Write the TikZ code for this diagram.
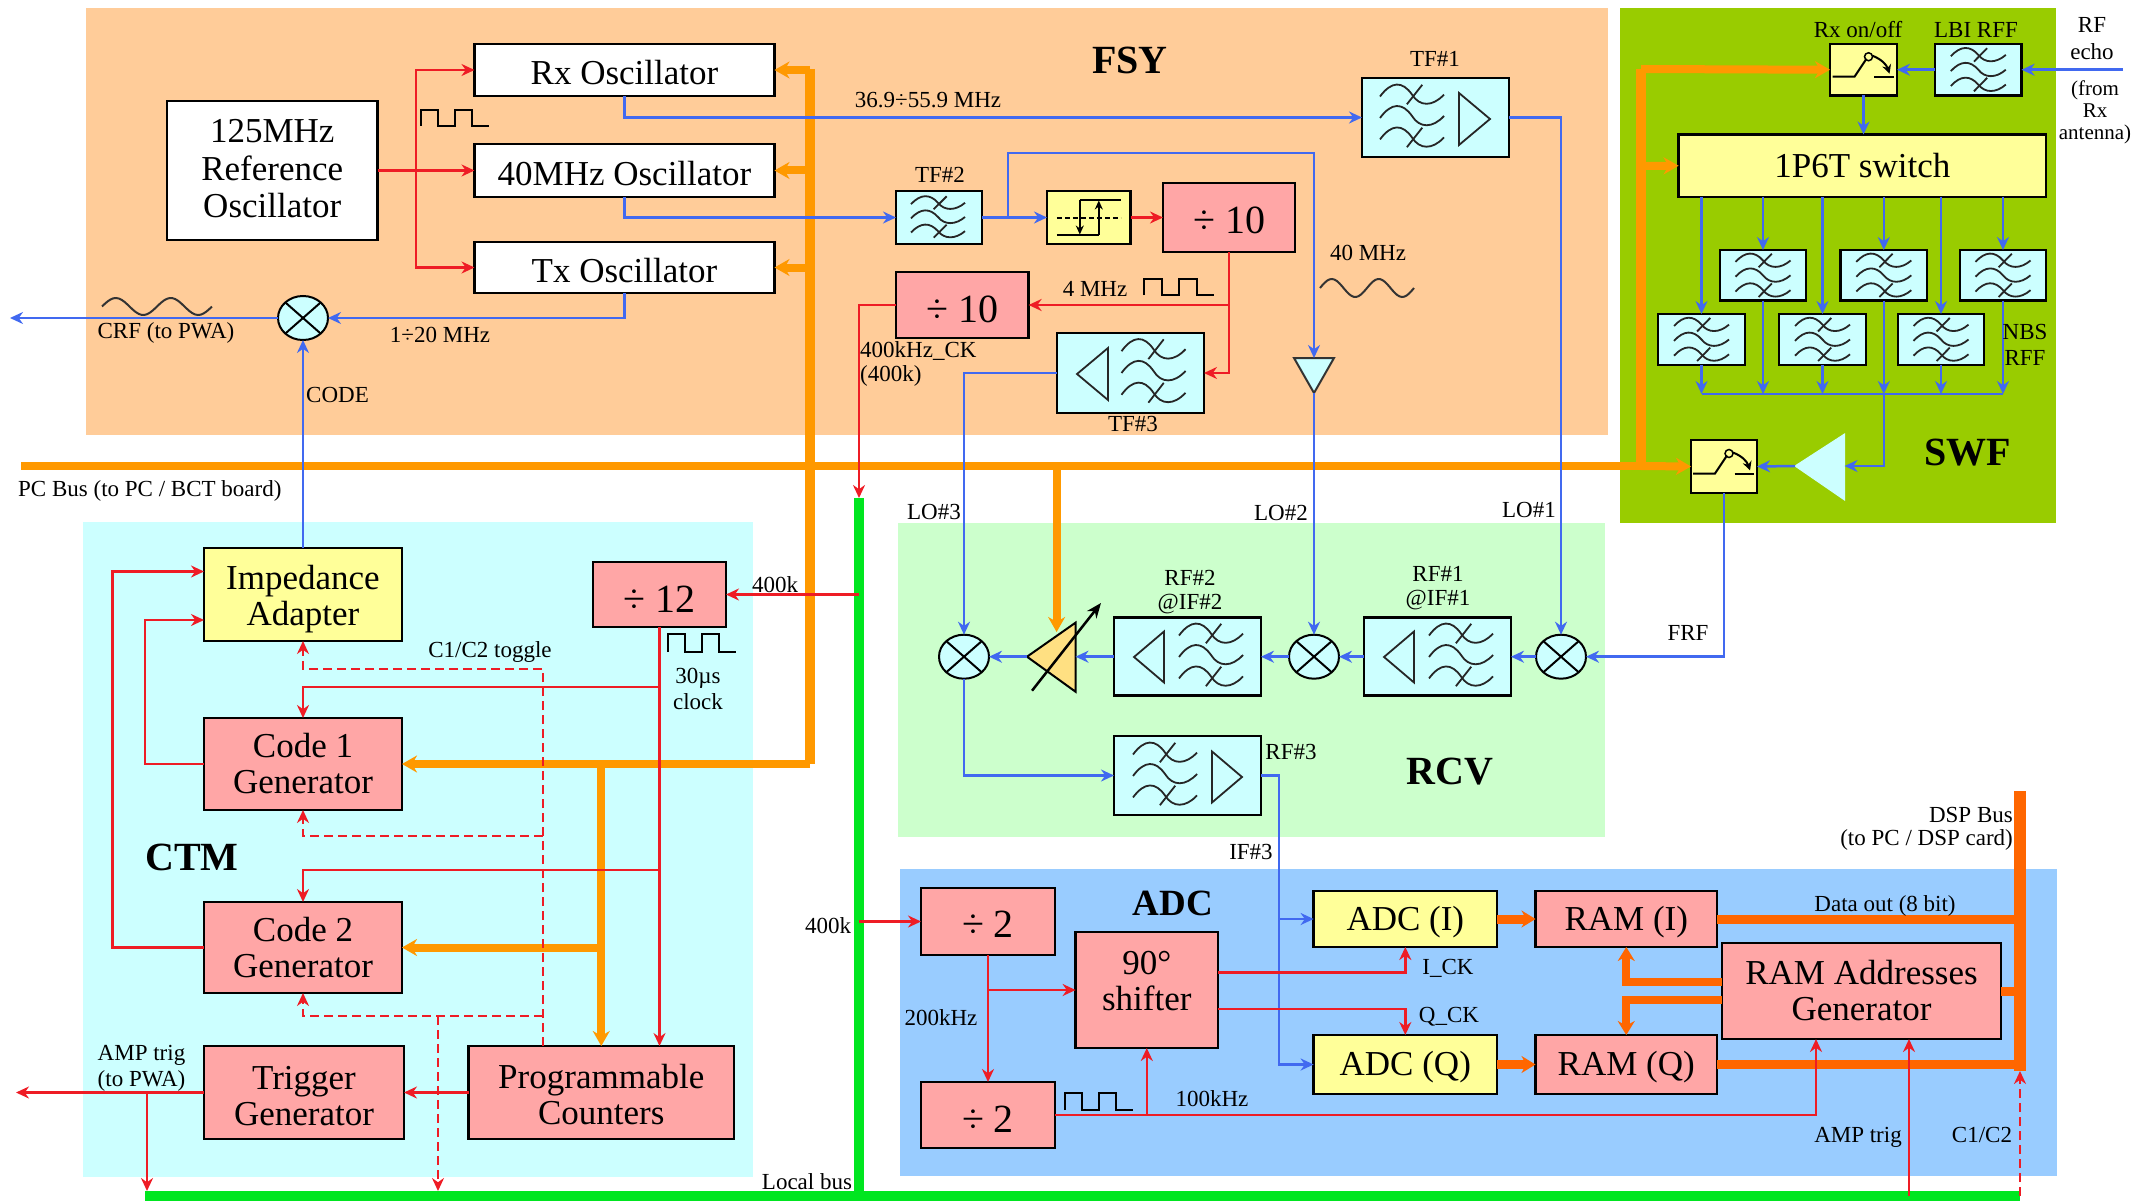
\documentclass[tikz,border=0pt]{standalone}
\usepackage{fontspec}
\setmainfont{Liberation Serif}
\usepackage{xcolor}
\usetikzlibrary{arrows.meta, calc, shapes.geometric}

\definecolor{fsycol}{HTML}{FFCC99}
\definecolor{swfcol}{HTML}{99CC00}
\definecolor{ctmcol}{HTML}{CCFFFF}
\definecolor{rcvcol}{HTML}{CCFFCC}
\definecolor{adccol}{HTML}{99CCFF}
\definecolor{pinkcol}{HTML}{FFA6A6}
\definecolor{yelcol}{HTML}{FFFF99}
\definecolor{sigblue}{HTML}{4169F0}
\definecolor{ctlred}{HTML}{EE1C25}
\definecolor{busorange}{HTML}{FF9900}
\definecolor{dspcol}{HTML}{FF6600}
\definecolor{lbuscol}{HTML}{00E620}
\definecolor{vgacol}{HTML}{FFE082}

\tikzset{
  blkbase/.style={draw=black, line width=2.5pt, inner sep=0pt, outer sep=0pt, align=center, font=\fontsize{35}{36}\selectfont},
  whitebox/.style={blkbase, fill=white, font=\fontsize{35}{37.5}\selectfont},
  pinkbox/.style={blkbase, fill=pinkcol},
  yelbox/.style={blkbase, fill=yelcol},
  cyanbox/.style={blkbase, fill=ctmcol},
  divbox/.style={blkbase, fill=pinkcol, font=\fontsize{40}{44}\selectfont},
  mixer/.style={ellipse, draw=black, fill=ctmcol, line width=2pt, inner sep=0pt, outer sep=0pt,
    minimum width=50pt, minimum height=44pt,
    path picture={\draw[line width=2pt] (path picture bounding box.north west) -- (path picture bounding box.south east)
      (path picture bounding box.north east) -- (path picture bounding box.south west);}},
  lbl/.style={inner sep=0pt, align=center, font=\fontsize{23}{26}\selectfont},
  seclbl/.style={inner sep=0pt, font=\fontsize{40}{44}\selectfont\bfseries},
  sig/.style={draw=sigblue, line width=2.5pt},
  ctl/.style={draw=ctlred, line width=2.5pt},
  ctld/.style={draw=ctlred, line width=2pt, dash pattern=on 9pt off 5pt},
  busor/.style={draw=busorange, line width=8pt, >={Stealth[length=15pt,width=17pt]}},
  busdsp/.style={draw=dspcol, line width=9pt, >={Stealth[length=14pt,width=17pt]}},
  lbus/.style={draw=lbuscol, line width=10pt},
  filtline/.style={draw=black!85, line width=1.8pt},
  waves/.pic={
    \foreach \yy/\tk in {-0.33/1,0/0,0.33/1}{
      \draw[filtline] (-.5,\yy+.03) .. controls (-.32,\yy-.21) and (-.15,\yy-.21) .. (0,\yy) .. controls (.12,\yy+.19) and (.32,\yy+.19) .. (.5,\yy);
      \ifnum\tk=1 \draw[filtline] (.16,\yy-.15) -- (-.08,\yy+.15); \fi
    }
  },
  tri/.pic={\draw[filtline] (-.5,-.5) -- (.5,0) -- (-.5,.5) -- cycle;},
  pulse/.pic={\draw[draw=black, line width=2pt] (0,1) -- (0,0) -- (.25,0) -- (.25,1) -- (.5,1) -- (.5,0) -- (.75,0) -- (.75,1) -- (1,1);},
  sine/.pic={\draw[draw=black!80, line width=2pt, smooth] plot[domain=0:1, samples=40] (\x, {0.5-0.5*sin(720*\x)});},
  rfswitch/.pic={
    \draw[draw=black, line width=2pt] (-31,7) -- (-9,7) -- (3,-11);
    \draw[draw=black, line width=2pt] (10.5,7) -- (30,7);
    \draw[draw=black, line width=1.5pt] (5,-13) circle (4);
    \draw[draw=black, line width=2pt, -{Stealth[length=9pt,width=9pt]}] (9,-14) to[bend left=25] (26,4);
  },
  hyst/.pic={
    \draw[draw=black, line width=2pt, dash pattern=on 5pt off 3pt] (-32,0) -- (32,0);
    \draw[draw=black, line width=2pt] (-32,17) -- (10,17) (-9,-17) -- (32,-17);
    \draw[draw=black, line width=2pt, -{Stealth[length=9pt,width=8pt]}] (-9,-17) -- (-9,17);
    \draw[draw=black, line width=2pt, -{Stealth[length=9pt,width=8pt]}] (10,17) -- (10,-17);
  }
}

\newcommand{\blk}[7]{%
  \pgfmathsetmacro\blkw{#5-#3}\pgfmathsetmacro\blkh{#6-#4}%
  \node[#1, minimum width=\blkw pt, minimum height=\blkh pt] (#2) at ({(#3+#5)/2},{(#4+#6)/2}) {#7};}
\newcommand{\dnrule}[1]{\rule{0pt}{#1pt}}

\begin{document}
\begin{tikzpicture}[x=1pt, y=-1pt, >={Stealth[length=13pt,width=12pt]}]
  \useasboundingbox (0,0) rectangle (2138,1201);

  \fill[fsycol] (86,8) rectangle (1608,435);
  \fill[swfcol] (1620,8) rectangle (2056,523);
  \fill[ctmcol] (83,522) rectangle (753,1177);
  \fill[rcvcol] (898,523) rectangle (1605,837);
  \fill[adccol] (900,869) rectangle (2057,1176);

  \coordinate (bartop) at (810,69);
  \coordinate (barcorner) at (810,764);
  \coordinate (barstart) at (21,466);
  \coordinate (barvga) at (1056.6,466);
  \coordinate (vgabus) at (1056.6,632);
  \coordinate (swfbot) at (1641,466);
  \coordinate (swftop) at (1641,69);
  \coordinate (swfmid) at (1641,166);
  \coordinate (lbustop) at (859,498);
  \coordinate (lbusbot) at (859,1196);
  \coordinate (lbusl) at (145,1196);
  \coordinate (lbusr) at (2020,1196);
  \coordinate (dsptop) at (2020,791);
  \coordinate (dspbot) at (2020,1071);

  \blk{whitebox}{refosc}{167}{101}{377.5}{240}{125MHz\\Reference\\Oscillator\rule[-4pt]{0pt}{1pt}}
  \blk{whitebox}{rxosc}{474.5}{44}{774.5}{96}{\dnrule{30}Rx Oscillator}
  \blk{whitebox}{oscforty}{474.5}{144}{774.5}{197}{\dnrule{30}40MHz Oscillator}
  \blk{whitebox}{txosc}{474.5}{242}{774.5}{293}{\dnrule{31}Tx Oscillator}
  \node[mixer] (mixc) at (303,318) {};
  \blk{cyanbox}{tfone}{1362}{78}{1509}{157}{}
  \blk{cyanbox}{tftwo}{896}{191}{982}{244}{}
  \blk{yelbox}{schm}{1047}{191}{1130.6}{244}{}
  \blk{divbox}{divtena}{1163}{183}{1295}{252}{\dnrule{32}÷ 10}
  \blk{divbox}{divtenb}{896}{272}{1028.6}{338}{\dnrule{35}÷ 10}
  \blk{cyanbox}{tfthree}{1057}{333}{1204}{413}{}

  \blk{yelbox}{rxsw}{1830}{44}{1897}{95.5}{}
  \blk{cyanbox}{lbiflt}{1935}{44}{2021.6}{95.5}{}
  \blk{yelbox}{ponesix}{1678.6}{134.5}{2046}{197}{1P6T switch}
  \blk{cyanbox}{nbsb}{1720}{250}{1806}{300.7}{}
  \blk{cyanbox}{nbsd}{1840.6}{250}{1927}{300.7}{}
  \blk{cyanbox}{nbsf}{1960}{250}{2046}{300.7}{}
  \blk{cyanbox}{nbsa}{1658}{314}{1745}{365}{}
  \blk{cyanbox}{nbsc}{1779}{314}{1866}{365}{}
  \blk{cyanbox}{nbse}{1898}{314}{1984}{365}{}
  \blk{yelbox}{txsw}{1691}{440}{1757}{493}{}

  \blk{yelbox}{impad}{204}{548}{402}{641}{\dnrule{33}Impedance\\Adapter}
  \blk{pinkbox}{codeone}{204}{718}{402}{810}{Code 1\\Generator}
  \blk{pinkbox}{codetwo}{204}{902}{402}{993}{Code 2\\Generator}
  \blk{pinkbox}{trig}{204}{1046}{404}{1139}{\dnrule{30}Trigger\\Generator}
  \blk{pinkbox}{prog}{468.5}{1046}{734}{1139}{\dnrule{28}Programmable\\Counters}
  \blk{divbox}{divtwelve}{593}{562}{726}{627}{\dnrule{35}÷ 12}

  \node[mixer] (mixone) at (1561,656.7) {};
  \node[mixer] (mixtwo) at (1314,656.7) {};
  \node[mixer] (mixthree) at (964,656.7) {};
  \blk{cyanbox}{rfone}{1364}{617.7}{1511}{695.7}{}
  \blk{cyanbox}{rftwo}{1114}{617.7}{1261}{695.7}{}
  \blk{cyanbox}{rfthree}{1114}{736}{1261}{815}{}

  \blk{divbox}{divtwoa}{921}{888}{1055}{955}{\dnrule{32}÷ 2}
  \blk{divbox}{divtwob}{921}{1082}{1055}{1148}{\dnrule{35}÷ 2}
  \blk{pinkbox}{shift}{1075.6}{932}{1218}{1048}{90°\\shifter\rule[-18pt]{0pt}{1pt}}
  \blk{yelbox}{adci}{1313.6}{891}{1497}{947}{\dnrule{30}ADC (I)}
  \blk{yelbox}{adcq}{1313.6}{1035}{1497}{1094}{\dnrule{30}ADC (Q)}
  \blk{pinkbox}{rami}{1535.5}{891}{1717}{947}{\dnrule{30}RAM (I)}
  \blk{pinkbox}{ramq}{1535.5}{1035}{1717}{1094}{\dnrule{30}RAM (Q)}
  \blk{pinkbox}{ramad}{1722}{943}{2001}{1039}{RAM Addresses\\Generator}

  \pic[xscale=64,yscale=65] at (1412,116) {waves};
  \pic[xscale=31,yscale=52] at (1474.5,119) {tri};
  \pic[xscale=54,yscale=43] at (938,217) {waves};
  \pic[xscale=64,yscale=66] at (1153.5,371) {waves};
  \pic[xscale=-31,yscale=52] at (1092.5,374) {tri};
  \pic[xscale=64,yscale=65] at (1211,655) {waves};
  \pic[xscale=-30,yscale=51] at (1149,657) {tri};
  \pic[xscale=64,yscale=65] at (1461,655) {waves};
  \pic[xscale=-30,yscale=51] at (1399,657) {tri};
  \pic[xscale=64,yscale=65] at (1165,774) {waves};
  \pic[xscale=30,yscale=51] at (1227,777) {tri};
  \foreach \f in {lbiflt,nbsa,nbsb,nbsc,nbsd,nbse,nbsf}
    \pic[xscale=55,yscale=45] at (\f) {waves};
  \pic at (schm) {hyst};
  \pic at (rxsw) {rfswitch};
  \pic at (txsw) {rfswitch};

  \coordinate (buftop) at (1314,358);
  \coordinate (bufbot) at (1314,393);
  \coordinate (bufup) at (1314,153);
  \filldraw[fill=ctmcol, draw=black!80, line width=2pt] (1294,358) -- (1334,358) -- (bufbot) -- cycle;
  \coordinate (ampr) at (1844.5,466);
  \coordinate (ampl) at (1795,466);
  \filldraw[fill=ctmcol, draw=ctmcol, line width=1pt] (ampl) -- (1844.5,434) -- (1844.5,500) -- cycle;
  \coordinate (vgar) at (1075.5,656.7);
  \coordinate (vgal) at (1027,656.7);
  \filldraw[fill=vgacol, draw=black, line width=2pt] (vgal) -- (1075.5,622.7) -- (1075.5,691.7) -- cycle;

  \draw[busor] (barstart) -- (swfbot);
  \draw[busor, line width=10pt] (bartop) -- (barcorner);
  \draw[busor,->] (barcorner) -- (codeone.east);
  \draw[busor,->] (rxosc.east -| bartop) -- (rxosc.east);
  \draw[busor,->] (oscforty.east -| bartop) -- (oscforty.east);
  \draw[busor,->] (txosc.east -| bartop) -- (txosc.east);
  \draw[busor,->] (prog.north |- codeone.east) -- (prog.north);
  \draw[busor,->] (prog.north |- codetwo.east) -- (codetwo.east);
  \draw[busor,->] (barvga) -- (vgabus);
  \draw[busor,->] (swfbot) -- (txsw.west);
  \draw[busor, line width=10pt] (swfbot) -- (swftop);
  \draw[busor,->] (swftop) -- (rxsw.west);
  \draw[busor,->] (swfmid) -- (ponesix.west);

  \draw[lbus] (lbustop) -- (lbusbot);
  \draw[lbus] (lbusl) -- (lbusr);

  \draw[busdsp, line width=12pt] (dsptop) -- (dspbot);
  \draw[busdsp,->] (adci.east) -- (rami.west);
  \draw[busdsp,->] (adcq.east) -- (ramq.west);
  \draw[busdsp] (rami.east) -- (rami.east -| dsptop);
  \draw[busdsp] (ramq.east) -- (ramq.east -| dsptop);
  \draw[busdsp] (ramad.east) -- (ramad.east -| dsptop);
  \coordinate (radup) at (1722,982);
  \coordinate (raddn) at (1722,1000);
  \draw[busdsp, line width=8pt,->] (radup) -| (rami.south);
  \draw[busdsp, line width=8pt,->] (raddn) -| (ramq.north);

  \coordinate (refbr) at (416,170.5);
  \draw[ctl,->] (refosc.east) -- (oscforty.west);
  \draw[ctl,->] (refbr) |- (rxosc.west);
  \draw[ctl,->] (refbr) |- (txosc.west);

  \coordinate (crfout) at (10,318);
  \draw[sig,->] (txosc.south) |- (mixc.east);
  \draw[sig,->] (mixc.west) -- (crfout);
  \draw[sig,->] (impad.north) -- (mixc.south);
  \draw[sig,->] (rxosc.south) |- (tfone.west);
  \draw[sig,->] (oscforty.south) |- (tftwo.west);
  \draw[sig,->] (tftwo.east) -- (schm.west);
  \coordinate (tftwobr) at (1008,217.5);
  \draw[sig,->] (tftwobr) |- (bufup) -- (buftop);
  \draw[sig,->] (bufbot) -- (mixtwo.north);
  \draw[sig,->] (tfone.east) -| (mixone.north);
  \draw[sig,->] (tfthree.west) -| (mixthree.north);

  \draw[ctl,->] (schm.east) -- (divtena.west);
  \draw[ctl,->] (divtena.south) |- (tfthree.east);
  \draw[ctl,->] (divtena.south |- divtenb.east) -- (divtenb.east);
  \draw[ctl,->] (divtenb.west) -| (lbustop);

  \coordinate (rfecho) at (2123,69.75);
  \coordinate (collect) at (1702,394);
  \draw[sig,->] (rfecho) -- (lbiflt.east);
  \draw[sig,->] (lbiflt.west) -- (rxsw.east);
  \draw[sig,->] (rxsw.south) -- (rxsw.south |- ponesix.north);
  \foreach \f in {nbsa,nbsb,nbsc,nbsd,nbse,nbsf}{
    \draw[sig,->] (ponesix.south -| \f.north) -- (\f.north);
    \draw[sig,->] (\f.south) -- (\f.south |- collect);
  }
  \draw[sig] (nbsa.south |- collect) -- (nbsf.south |- collect);
  \draw[sig,->] (nbsd.south |- collect) |- (ampr);
  \draw[sig,->] (ampl) -- (txsw.east);
  \draw[sig,->] (txsw.south) |- (mixone.east);

  \draw[sig,->] (mixone.west) -- (rfone.east);
  \draw[sig,->] (rfone.west) -- (mixtwo.east);
  \draw[sig,->] (mixtwo.west) -- (rftwo.east);
  \draw[sig,->] (rftwo.west) -- (vgar);
  \draw[sig,->] (vgal) -- (mixthree.east);
  \draw[line width=2.5pt,-{Stealth[length=15pt,width=12pt]}] (1032,690.7) -- (1101,603);
  \draw[sig,->] (mixthree.south) |- (rfthree.west);

  \coordinate (ifq) at (1279,1064.5);
  \coordinate (ifi) at (1279,919);
  \draw[sig,->] (rfthree.east) -| (ifq) -- (adcq.west);
  \draw[sig,->] (ifi) -- (adci.west);

  \coordinate (lbdiv) at (859,921.5);
  \coordinate (lbtwelve) at (859,594.5);
  \draw[ctl,->] (lbdiv) -- (divtwoa.west);
  \draw[ctl,->] (lbtwelve) -- (divtwelve.east);
  \draw[ctl,->] (divtwoa.south) -- (divtwob.north);
  \draw[ctl,->] (divtwoa.south |- shift.west) -- (shift.west);
  \coordinate (shfi) at (1218,972.7);
  \coordinate (shfq) at (1218,1009);
  \draw[ctl,->] (shfi) -| (adci.south);
  \draw[ctl,->] (shfq) -| (adcq.north);
  \coordinate (adrin) at (1816,1039);
  \coordinate (ampin) at (1909,1039);
  \coordinate (ampbot) at (1909,1196);
  \coordinate (cbot) at (2020,1196);
  \draw[ctl,->] (divtwob.east) -| (adrin);
  \draw[ctl,->] (shift.south |- divtwob.east) -- (shift.south);
  \draw[ctl,->] (ampbot) -- (ampin);
  \draw[ctld,->] (cbot) -- (dspbot);

  \coordinate (clkone) at (659.5,687);
  \coordinate (clktwo) at (659.5,870);
  \draw[ctl,->] (divtwelve.south) -- (divtwelve.south |- prog.north);
  \draw[ctl,->] (clkone) -| (codeone.north);
  \draw[ctl,->] (clktwo) -| (codetwo.north);
  \coordinate (ctoga) at (542.5,1046);
  \coordinate (ctogb) at (542.5,668.5);
  \coordinate (ctogc) at (542.5,836);
  \coordinate (ctogd) at (542.5,1016);
  \coordinate (ctoge) at (438,1016);
  \coordinate (ctogf) at (438,1191);
  \draw[ctld,->] (ctoga) -- (ctogb) -| (impad.south);
  \draw[ctld,->] (ctogc) -| (codeone.south);
  \draw[ctld,->] (ctogd) -| (codetwo.south);
  \draw[ctld,->] (ctoge) -- (ctogf);
  \coordinate (impina) at (204,571.5);
  \coordinate (impinb) at (204,620);
  \draw[ctl,->] (codetwo.west) -- ++(-91.5,0) |- (impina);
  \draw[ctl,->] (codeone.west) -- ++(-59,0) |- (impinb);
  \coordinate (ampout) at (16,1092.5);
  \coordinate (ampbr) at (147,1092.5);
  \coordinate (ampdn) at (147,1191);
  \draw[ctl,->] (prog.west) -- (trig.east);
  \draw[ctl,->] (trig.west) -- (ampout);
  \draw[ctl,->] (ampbr) -- (ampdn);

  \pic[xscale=68,yscale=16] at (421,110) {pulse};
  \pic[xscale=70,yscale=16] at (1144,279) {pulse};
  \pic[xscale=68,yscale=18] at (668,634) {pulse};
  \pic[xscale=68,yscale=17] at (1065,1093) {pulse};
  \pic[xscale=110,yscale=17] at (102,298) {sine};
  \pic[xscale=94,yscale=18] at (1320,279) {sine};

  \node[seclbl] (lblfsy) at (1130,60) {FSY};
  \node[seclbl] (lblswf) at (1968,453) {SWF};
  \node[seclbl] (lblctm) at (192,857) {CTM};
  \node[seclbl] (lblrcv) at (1450,772) {RCV};
  \node[seclbl, font=\fontsize{37}{40}\selectfont\bfseries] (lbladc) at (1173,903) {ADC};

  \node[lbl] (lblcrf) at (166,333) {CRF (to PWA)};
  \node[lbl] (lblonetw) at (440,335) {1÷20 MHz};
  \node[lbl, anchor=west] (lblcode) at (306,395) {CODE};
  \node[lbl, anchor=west] (lblpc) at (18,491) {PC Bus (to PC / BCT board)};
  \node[lbl] (lblrange) at (928,100) {36.9÷55.9 MHz};
  \node[lbl] (lbltfone) at (1435,59) {TF\#1};
  \node[lbl] (lbltftwo) at (940,175) {TF\#2};
  \node[lbl] (lbltfthree) at (1133,424) {TF\#3};
  \node[lbl] (lblfortym) at (1368,253) {40 MHz};
  \node[lbl] (lblfourm) at (1095,289) {4 MHz};
  \node[lbl, anchor=west] (lblck) at (860,351) {400kHz\_CK};
  \node[lbl, anchor=west] (lblckb) at (860,376) {(400k)};
  \node[lbl] (lblloc) at (934,512) {LO\#3};
  \node[lbl] (lblloa) at (1281,513) {LO\#2};
  \node[lbl] (lbllob) at (1529,510) {LO\#1};
  \node[lbl] (lblrxon) at (1858,30) {Rx on/off};
  \node[lbl] (lbllbi) at (1976,30) {LBI RFF};
  \node[lbl] (lblrfe) at (2092,39) {RF\\[1pt]echo};
  \node[lbl, font=\fontsize{21}{22}\selectfont] (lblfrom) at (2095,112) {(from\\Rx\\antenna)};
  \node[lbl] (lblnbs) at (2025,345) {NBS\\RFF};
  \node[lbl] (lblfrf) at (1688,633) {FRF};
  \node[lbl] (lblrftwo) at (1190,578) {RF\#2};
  \node[lbl] (lblifall) at (1190,604) {@IF\#2};
  \node[lbl] (lblrfone) at (1438,574) {RF\#1};
  \node[lbl] (lblifone) at (1438,600) {@IF\#1};
  \node[lbl] (lblrfthree) at (1291,752) {RF\#3};
  \node[lbl] (lbliftri) at (1251,852) {IF\#3};
  \node[lbl] (lblkfa) at (775,585) {400k};
  \node[lbl] (lbltoggle) at (490,652) {C1/C2 toggle};
  \node[lbl] (lblclock) at (698,689) {30µs\\clock};
  \node[lbl] (lblamp) at (141.5,1068) {AMP trig\\(to PWA)};
  \node[lbl] (lbllocal) at (807,1182) {Local bus};
  \node[lbl] (lblkfb) at (828,926) {400k};
  \node[lbl] (lbltwok) at (941,1018) {200kHz};
  \node[lbl] (lblhundk) at (1212,1099) {100kHz};
  \node[lbl] (lblick) at (1448,968) {I\_CK};
  \node[lbl] (lblqck) at (1449,1017) {Q\_CK};
  \node[lbl] (lbldata) at (1885,906) {Data out (8 bit)};
  \node[lbl, anchor=east] (lbldspa) at (2013,815) {DSP Bus};
  \node[lbl, anchor=east] (lbldspb) at (2013,840) {(to PC / DSP card)};
  \node[lbl] (lblamptr) at (1858,1137) {AMP trig};
  \node[lbl] (lblcc) at (1982,1135) {C1/C2};
\end{tikzpicture}
\end{document}
